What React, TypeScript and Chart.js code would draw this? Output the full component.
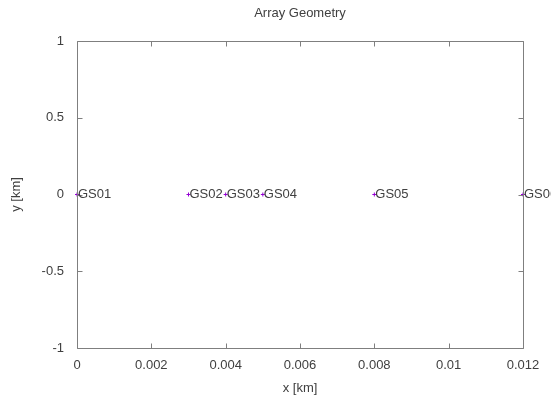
import React, { useEffect, useRef } from "react";
import { Chart, registerables } from "chart.js";

Chart.register(...registerables);

const stationNames = ["GS01", "GS02", "GS03", "GS04", "GS05", "GS06"];
const stationX = [0, 0.003, 0.004, 0.005, 0.008, 0.012];
const stationY = [0, 0, 0, 0, 0, 0];

const xTickMin = 0;
const xTickMax = 0.012;
const xTickStep = 0.002;
const yTickMin = -1;
const yTickMax = 1;
const yTickStep = 0.5;

const chartTitle = "Array Geometry";
const xAxisTitle = "x [km]";
const yAxisTitle = "y [km]";

const FONT = "'Liberation Sans', Arial, sans-serif";
const FS = 13;
const TEXT = "#404040";
const BORDER = "#7f7f7f";
const MARK = "#9400d3";

const fmt = (v: number) => String(Number(Number(v).toFixed(6)));

const framePlugin = {
  id: "frame",
  afterDraw(chart: any) {
    const { ctx, chartArea } = chart;
    const { left, right, top, bottom } = chartArea;
    const xs = chart.scales.x;
    const ys = chart.scales.y;
    ctx.save();
    ctx.strokeStyle = BORDER;
    ctx.lineWidth = 1;
    const L = Math.round(left) + 0.5;
    const R = Math.round(right) + 0.5;
    const T = Math.round(top) + 0.5;
    const B = Math.round(bottom) + 0.5;
    ctx.beginPath();
    ctx.rect(L, T, R - L, B - T);
    ctx.stroke();
    const tl = 5;
    ctx.beginPath();
    xs.ticks.forEach((t: any) => {
      const px = Math.round(xs.getPixelForValue(t.value)) + 0.5;
      ctx.moveTo(px, B);
      ctx.lineTo(px, B - tl);
      ctx.moveTo(px, T);
      ctx.lineTo(px, T + tl);
    });
    ys.ticks.forEach((t: any) => {
      const py = Math.round(ys.getPixelForValue(t.value)) + 0.5;
      ctx.moveTo(L, py);
      ctx.lineTo(L + tl, py);
      ctx.moveTo(R, py);
      ctx.lineTo(R - tl, py);
    });
    ctx.stroke();

    // title centred over the plot area
    ctx.fillStyle = TEXT;
    ctx.font = `${FS}px ${FONT}`;
    ctx.textAlign = "center";
    ctx.textBaseline = "middle";
    ctx.fillText(chartTitle, (left + right) / 2, 13);

    // station labels
    const meta = chart.getDatasetMeta(0);
    ctx.textAlign = "left";
    meta.data.forEach((el: any, i: number) => {
      ctx.fillText(stationNames[i], el.x + 1, el.y);
    });
    ctx.restore();
  },
};

export default function App() {
  const ref = useRef<HTMLCanvasElement | null>(null);
  useEffect(() => {
    document.body.style.margin = "0";
    const canvas = ref.current!;
    const chart = new Chart(canvas, {
      type: "scatter",
      data: {
        datasets: [
          {
            label: "stations",
            data: stationX.map((x, i) => ({ x, y: stationY[i] })),
            pointStyle: "cross",
            pointRadius: 2,
            pointBorderWidth: 1,
            borderColor: MARK,
            backgroundColor: MARK,
            pointHoverRadius: 2,
            clip: false,
          },
        ],
      },
      options: {
        animation: false,
        responsive: false,
        maintainAspectRatio: false,
        devicePixelRatio: 1,
        layout: { padding: { left: 0, right: 28, top: 41, bottom: 0 } },
        plugins: {
          legend: { display: false },
          tooltip: { enabled: false },
          title: { display: false },
        },
        scales: {
          x: {
            type: "linear",
            min: xTickMin,
            max: xTickMax,
            grid: { display: false },
            border: { display: false },
            ticks: {
              stepSize: xTickStep,
              color: TEXT,
              font: { family: FONT, size: FS },
              padding: 2,
              maxRotation: 0,
              autoSkip: false,
              callback: (v: any) => fmt(v),
            },
            title: {
              display: true,
              text: xAxisTitle,
              color: TEXT,
              font: { family: FONT, size: FS },
              padding: { top: 0, bottom: 1 },
            },
            afterFit: (s: any) => {
              s.height = 49;
              s.paddingLeft = 0;
              s.paddingRight = 0;
            },
          },
          y: {
            type: "linear",
            min: yTickMin,
            max: yTickMax,
            grid: { display: false },
            border: { display: false },
            ticks: {
              stepSize: yTickStep,
              color: TEXT,
              font: { family: FONT, size: FS },
              padding: 5,
              autoSkip: false,
              callback: (v: any) => fmt(v),
            },
            title: {
              display: true,
              text: yAxisTitle,
              color: TEXT,
              font: { family: FONT, size: FS },
              padding: { top: 9, bottom: 0 },
            },
            afterFit: (s: any) => {
              s.width = 77;
              s.paddingTop = 0;
              s.paddingBottom = 0;
            },
          },
        },
      },
      plugins: [framePlugin],
    } as any);
    return () => chart.destroy();
  }, []);
  return (
    <div style={{ position: "absolute", left: 0, top: 0, width: 551, height: 397 }}>
      <canvas ref={ref} width={551} height={397} style={{ width: 551, height: 397 }} />
    </div>
  );
}
